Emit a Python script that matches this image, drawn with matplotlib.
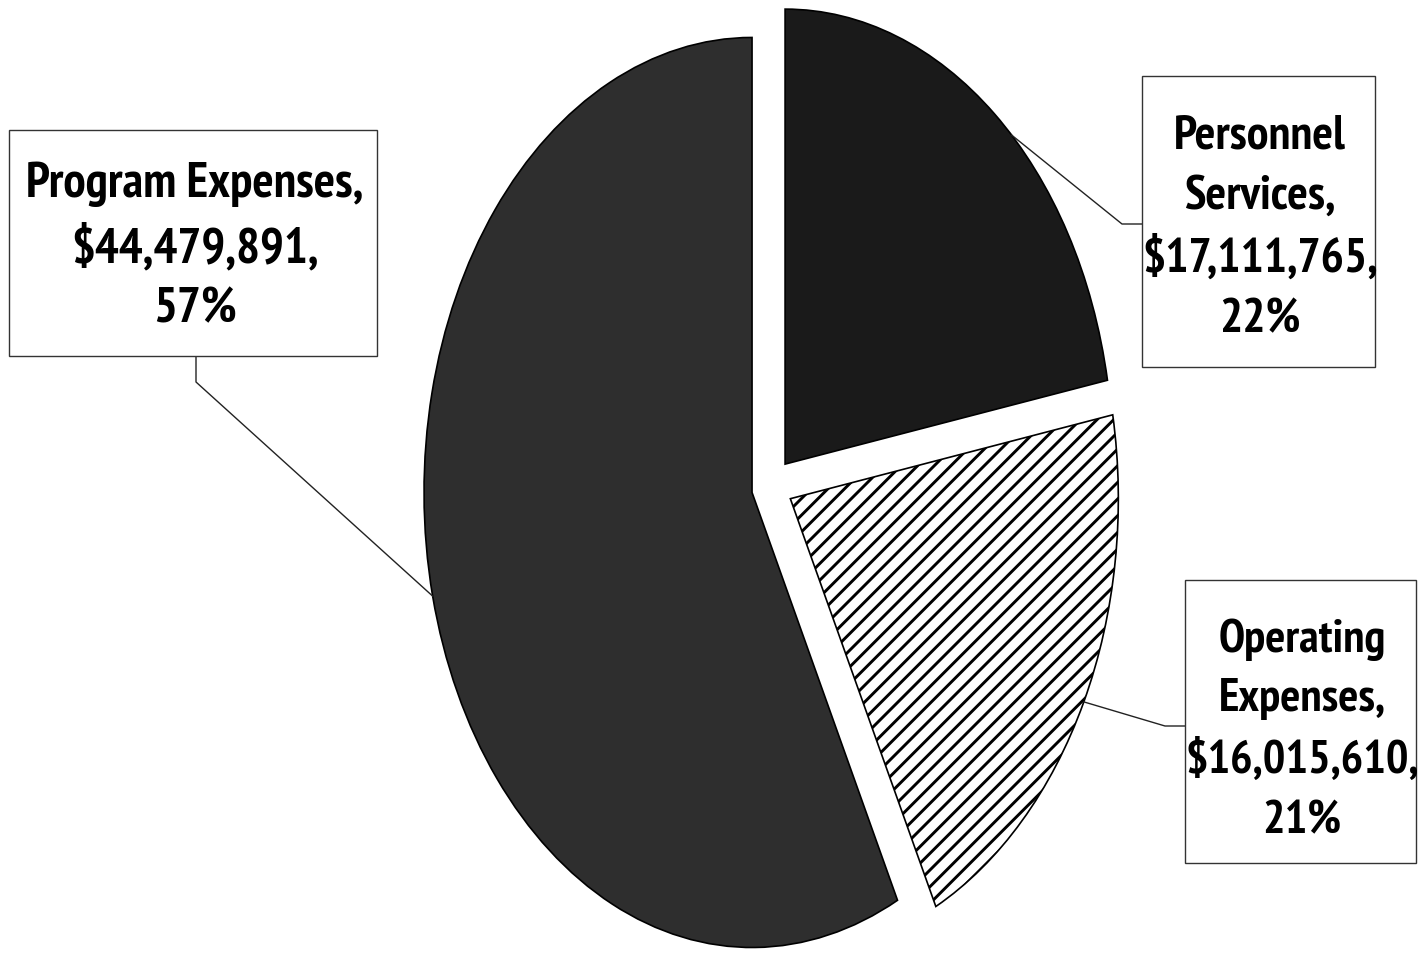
import matplotlib
matplotlib.use('Agg')
import matplotlib.pyplot as plt
from matplotlib import font_manager
from matplotlib.patches import Rectangle
import numpy as np

# data
categories = ['Personnel\nServices', 'Operating\nExpenses', 'Program Expenses']
amounts = [17111765, 16015610, 44479891]

colors = ['#1a1a1a', 'white', '#2e2e2e']
hatches = [None, '//', None]

W, H = 1418, 955
RX, RY = 328, 455   # pixels per data unit (pie is stretched vertically)
CX, CY = 772, 486   # pie centre in pixels, from top left


def d(x, y):
    # pixel position (from top left) -> data coords
    return (x - CX) / RX, (CY - y) / RY


def is_bold(f):
    w = f.weight
    if isinstance(w, (int, float)):
        return w >= 600
    return str(w).lower() in ('bold', 'heavy', 'black', 'semibold', 'demibold', 'extra bold', 'demi')


# look for a narrow bold face like Arial Narrow Bold
CONDENSED = ('condensed', 'semi-condensed', 'extra-condensed', 'ultra-condensed')
cands = [f for f in font_manager.fontManager.ttflist if is_bold(f) and
         ('Narrow' in f.name or 'Condensed' in f.name or str(f.stretch) in CONDENSED)]
cands.sort(key=lambda f: (0 if 'Narrow' in f.name else 1 if 'Condensed' in f.name else 2, f.name))
if cands:
    fam, stretch, scale = cands[0].name, cands[0].stretch, 1.0
else:
    fam, stretch, scale = 'Liberation Sans', 'normal', 0.84
plt.rcParams['font.family'] = [fam, 'DejaVu Sans']
plt.rcParams['hatch.linewidth'] = 2.1

fig = plt.figure(figsize=(W / 100, H / 100), dpi=100)
ax = fig.add_axes([0, 0, 1, 1])
wedges, _ = ax.pie(amounts, startangle=90, counterclock=False,
                   explode=[0.0625] * 3, colors=colors,
                   wedgeprops=dict(edgecolor='black', linewidth=1.2))
for w, h in zip(wedges, hatches):
    if h:
        w.set_hatch(h)
ax.set_aspect('auto')
ax.set_xlim(-CX / RX, (W - CX) / RX)
ax.set_ylim((CY - H) / RY, CY / RY)
ax.axis('off')

total = sum(amounts)
labels = [f'{c},\n${a:,},\n{a / total * 100:.0f}%' for c, a in zip(categories, amounts)]

# label boxes (px), text centre, elbow of leader line, leader angle shift
boxes = [(1142, 76, 1375, 367), (1185, 580, 1416, 863), (9, 130, 377, 356)]
centres = [(1260, 228), (1302, 730), (195, 247)]
elbows = [[(1122, 224), (1142, 224)], [(1165, 726), (1185, 726)], [(196, 382), (196, 356)]]
shifts = [-4, 0, 0]
sizes = [35, 34, 36]
pitch = 64  # px between lines

for w, lab, box, cen, elb, sh, fs in zip(wedges, labels, boxes, centres, elbows, shifts, sizes):
    x0, y0 = d(box[0], box[3])
    x1, y1 = d(box[2], box[1])
    ax.add_patch(Rectangle((x0, y0), x1 - x0, y1 - y0, facecolor='white',
                           edgecolor='#333333', linewidth=1.0, zorder=3))
    tx, ty = d(*cen)
    em = fs * scale * 100 / 72
    ax.text(tx, ty, lab, ha='center', va='center', multialignment='center',
            fontsize=fs * scale, fontweight='bold', fontstretch=stretch,
            linespacing=(pitch - 0.21 * em) / (0.75 * em), zorder=4)
    # leader from the slice edge near its middle angle
    mid = np.deg2rad((w.theta1 + w.theta2) / 2 + sh)
    px_, py_ = w.center[0] + w.r * np.cos(mid), w.center[1] + w.r * np.sin(mid)
    pts = [(px_, py_)] + [d(*p) for p in elb]
    xs, ys = zip(*pts)
    ax.plot(xs, ys, color='#222222', linewidth=1.0, zorder=2)

fig.savefig('out.png', dpi=100)
